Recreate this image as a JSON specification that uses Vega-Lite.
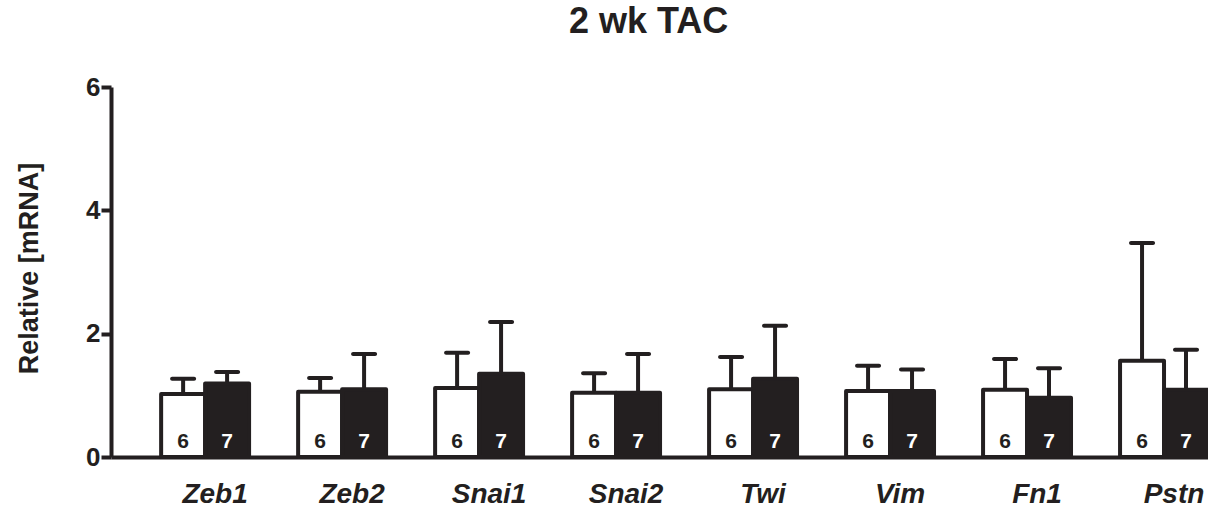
{
  "$schema": "https://vega.github.io/schema/vega-lite/v6.json",
  "width": 1097,
  "height": 370,
  "autosize": {"type": "none"},
  "padding": {"left": 111, "top": 87, "right": 0, "bottom": 52},
  "background": "white",
  "title": {"text": "2 wk TAC", "fontSize": 36, "font": "Liberation Sans", "fontWeight": "bold", "color": "#231f20", "offset": 33, "anchor": "start", "frame": "group", "dx": 458},
  "config": {
    "view": {"stroke": null},
    "font": "Liberation Sans"
  },
  "resolve": {"axis": {"y": "independent"}},
  "data": {
    "values": [
      {"gene": "Zeb1", "group": "Sham", "mean": 1.02, "upper": 1.27, "n": "6"},
      {"gene": "Zeb1", "group": "TAC", "mean": 1.19, "upper": 1.38, "n": "7"},
      {"gene": "Zeb2", "group": "Sham", "mean": 1.06, "upper": 1.28, "n": "6"},
      {"gene": "Zeb2", "group": "TAC", "mean": 1.10, "upper": 1.67, "n": "7"},
      {"gene": "Snai1", "group": "Sham", "mean": 1.12, "upper": 1.69, "n": "6"},
      {"gene": "Snai1", "group": "TAC", "mean": 1.35, "upper": 2.19, "n": "7"},
      {"gene": "Snai2", "group": "Sham", "mean": 1.04, "upper": 1.36, "n": "6"},
      {"gene": "Snai2", "group": "TAC", "mean": 1.04, "upper": 1.67, "n": "7"},
      {"gene": "Twi", "group": "Sham", "mean": 1.10, "upper": 1.62, "n": "6"},
      {"gene": "Twi", "group": "TAC", "mean": 1.27, "upper": 2.13, "n": "7"},
      {"gene": "Vim", "group": "Sham", "mean": 1.07, "upper": 1.48, "n": "6"},
      {"gene": "Vim", "group": "TAC", "mean": 1.07, "upper": 1.42, "n": "7"},
      {"gene": "Fn1", "group": "Sham", "mean": 1.09, "upper": 1.59, "n": "6"},
      {"gene": "Fn1", "group": "TAC", "mean": 0.96, "upper": 1.44, "n": "7"},
      {"gene": "Pstn", "group": "Sham", "mean": 1.56, "upper": 3.47, "n": "6"},
      {"gene": "Pstn", "group": "TAC", "mean": 1.09, "upper": 1.74, "n": "7"}
    ]
  },
  "encoding": {
    "x": {
      "field": "gene", "type": "nominal",
      "sort": ["Zeb1", "Zeb2", "Snai1", "Snai2", "Twi", "Vim", "Fn1", "Pstn"],
      "scale": {"paddingInner": 0.358, "paddingOuter": 0.183, "align": 1},
      "axis": {"title": null, "ticks": false, "domainWidth": 4, "domainColor": "#231f20", "labelFont": "Liberation Sans", "labelFontSize": 28, "labelFontWeight": "bold", "labelFontStyle": "italic", "labelColor": "#231f20", "labelPadding": 45, "labelBaseline": "alphabetic", "labelOffset": 10, "labelAngle": 0}
    },
    "xOffset": {"field": "group", "type": "nominal", "sort": ["Sham", "TAC"], "scale": {"paddingInner": 0, "paddingOuter": 0}}
  },
  "layer": [
    {
      "mark": {"type": "rule", "strokeWidth": 4, "color": "#231f20"},
      "encoding": {
        "y": {"field": "mean", "type": "quantitative", "scale": {"domain": [0, 6], "nice": false}, "axis": null},
        "y2": {"field": "upper"}
      }
    },
    {
      "mark": {"type": "tick", "size": 26, "thickness": 4, "color": "#231f20", "cornerRadius": 2, "opacity": 1},
      "encoding": {"y": {"field": "upper", "type": "quantitative", "axis": null}}
    },
    {
      "mark": {"type": "bar", "stroke": "#231f20", "strokeWidth": 4, "strokeJoin": "round"},
      "encoding": {
        "y": {"field": "mean", "type": "quantitative",
          "axis": {"title": "Relative [mRNA]", "values": [0, 2, 4, 6], "format": "d", "grid": false, "tickSize": 10, "tickWidth": 4, "tickColor": "#231f20", "domainWidth": 4, "domainColor": "#231f20", "labelFont": "Liberation Sans", "labelFontSize": 26, "labelFontWeight": "bold", "labelColor": "#231f20", "labelPadding": 1, "titleFont": "Liberation Sans", "titleFontSize": 27, "titleFontWeight": "bold", "titleColor": "#231f20", "titleX": -74, "titleY": 181, "titleAngle": -90, "titleBaseline": "alphabetic", "titleAlign": "center"}},
        "fill": {"field": "group", "type": "nominal", "scale": {"domain": ["Sham", "TAC"], "range": ["white", "#231f20"]}, "legend": null}
      }
    },
    {
      "mark": {"type": "text", "baseline": "alphabetic", "dy": -9, "fontSize": 21, "fontWeight": "bold"},
      "encoding": {
        "y": {"datum": 0, "type": "quantitative", "axis": null},
        "text": {"field": "n"},
        "color": {"field": "group", "type": "nominal", "scale": {"domain": ["Sham", "TAC"], "range": ["#231f20", "white"]}, "legend": null}
      }
    }
  ]
}
